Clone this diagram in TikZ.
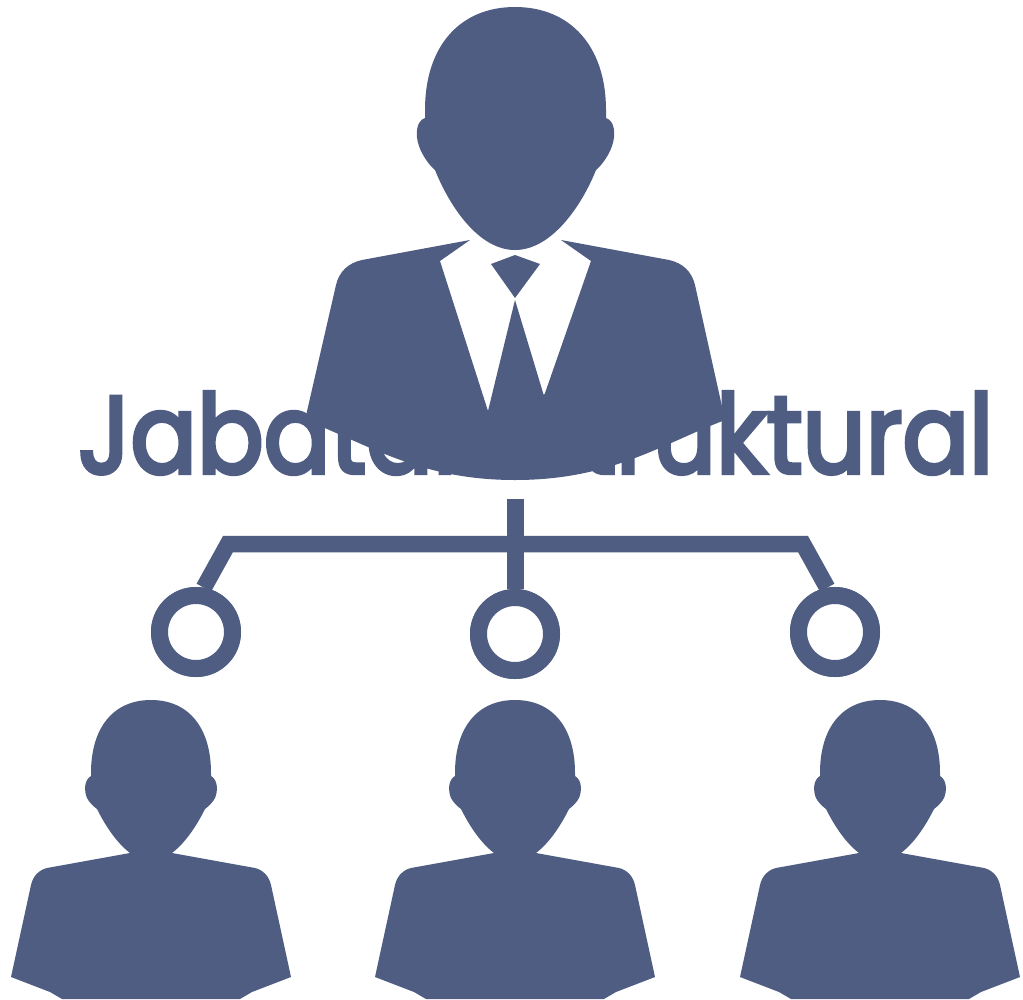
\documentclass[tikz,border=0pt]{standalone}
\usepackage{fontspec}
\setmainfont{Poppins}
\newfontfamily\titlefont{Poppins}[FakeBold=4]
\definecolor{slateb}{HTML}{4F5D82}
\tikzset{
  x=1pt,y=-1pt,
  ink/.style={fill=slateb,draw=none},
  wire/.style={draw=slateb,line width=16.5pt,line join=miter},
  ring/.style={circle,draw=slateb,line width=17pt,fill=white,minimum size=73pt,inner sep=0pt},
  titletext/.style={text=slateb,inner sep=0pt,anchor=base west},
  pics/smallperson/.style={code={
    \fill[ink] (0,-153) .. controls (-38,-153) and (-60,-125) .. (-60,-80)
      -- (-60,-77) .. controls (-67,-73) and (-67,-62) .. (-64,-55)
      .. controls (-62,-51) and (-58,-47) .. (-54,-44)
      .. controls (-45,-26) and (-34,-10) .. (-21,0)
      -- (-104,15) .. controls (-112,17) and (-118,23) .. (-120,32)
      -- (-140,124) -- (-101,139) -- (-89,146) -- (89,146) -- (101,139) -- (140,124)
      -- (120,32) .. controls (118,23) and (112,17) .. (104,15)
      -- (21,0) .. controls (34,-10) and (45,-26) .. (54,-44)
      .. controls (58,-47) and (62,-51) .. (64,-55)
      .. controls (67,-62) and (67,-73) .. (60,-77)
      -- (60,-80) .. controls (60,-125) and (38,-153) .. (0,-153) -- cycle;
  }}
}
\begin{document}
\begin{tikzpicture}
\useasboundingbox (0,0) rectangle (1023,999);
\fill[white] (0,0) rectangle (1023,999);
% head
\fill[ink] (515,7) .. controls (460,7) and (425,46) .. (425,110)
  -- (425,118) .. controls (416,121) and (415,135) .. (419,146)
  .. controls (422,155) and (429,165) .. (435,170)
  .. controls (449,205) and (478,250) .. (515,250)
  .. controls (552,250) and (582,205) .. (596,170)
  .. controls (602,165) and (609,155) .. (612,146)
  .. controls (616,135) and (615,121) .. (606,118)
  -- (606,110) .. controls (606,46) and (570,7) .. (515,7) -- cycle;
% suit
\fill[ink] (470,240) -- (362,260) .. controls (348,263) and (339,272) .. (336,285)
  -- (305,420) .. controls (370,445) and (420,480) .. (515,480)
  .. controls (610,480) and (660,445) .. (725,420)
  -- (695,285) .. controls (692,272) and (683,263) .. (669,260)
  -- (561,240) -- (591,261) -- (544,396) -- (515,300) -- (488,411) -- (440,261) -- cycle;
% knot
\fill[ink] (491,264) -- (515,255) -- (540,264) -- (515,298) -- cycle;
% title
\node[titletext] (title) at (78,473) {\resizebox{915pt}{81pt}{\titlefont Jabatan Struktural}};
% connectors
\coordinate (stem) at (515,499);
\coordinate (barl) at (228,544);
\coordinate (barr) at (803,544);
\node[ring] (ca) at (196,632) {};
\node[ring] (cb) at (515,634) {};
\node[ring] (cc) at (835,632) {};
\draw[wire,line width=17pt] (stem) -- (cb.north);
\draw[wire] (ca.80) -- (barl) -- (barr) -- (cc.100);
\node[ring] at (ca) {};
\node[ring] at (cb) {};
\node[ring] at (cc) {};
% people
\pic at (151,853) {smallperson};
\pic at (515,853) {smallperson};
\pic at (880,853) {smallperson};
\end{tikzpicture}
\end{document}
